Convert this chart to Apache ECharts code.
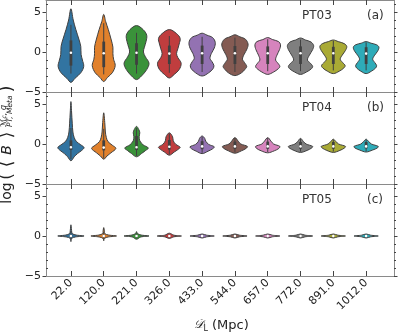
<!DOCTYPE html>
<html>
<head>
<meta charset="utf-8">
<script src="https://cdn.jsdelivr.net/npm/echarts@6/dist/echarts.min.js"></script>
<style>
  html, body { margin: 0; padding: 0; background: #fff; }
  #chart { width: 399px; height: 333px; }
</style>
</head>
<body>
<div id="chart"></div>
<script>
// categories (luminosity distance, Mpc)
const categories = ['22.0', '120.0', '221.0', '326.0', '433.0', '544.0', '657.0', '772.0', '891.0', '1012.0'];
const palette = ['#3274a1', '#e1812c', '#3a923a', '#c03d3e', '#9372b2', '#845b53', '#d684bd', '#7f7f7f', '#a9aa35', '#2eabb8'];
const panelNames = ['PT03', 'PT04', 'PT05'];
const panelTags = ['(a)', '(b)', '(c)'];
const yMajorTicks = [-5, 0, 5];
const yMinorTicks = [-4, -3, -2, -1, 1, 2, 3, 4, 6];
const catTicks = [0, 1, 2, 3, 4, 5, 6, 7, 8, 9];

// violin outlines: [log value, half width] from bottom tip to top tip
const violinsA = [
  [[-3.8,0],[-3.3,0.12],[-2.6,0.3],[-1.8,0.39],[-1.0,0.35],[-0.3,0.31],[0.7,0.3],[1.5,0.25],[2.8,0.15],[4.0,0.07],[5.4,0]],
  [[-3.7,0],[-3.2,0.11],[-2.6,0.26],[-1.7,0.35],[-0.9,0.3],[-0.2,0.28],[0.6,0.28],[1.5,0.23],[2.8,0.14],[3.8,0.06],[4.7,0]],
  [[-3.45,0],[-3.0,0.15],[-2.2,0.31],[-1.4,0.38],[-0.6,0.27],[0.0,0.21],[0.6,0.24],[1.3,0.29],[2.1,0.31],[2.8,0.2],[3.3,0]],
  [[-3.25,0],[-2.8,0.15],[-2.2,0.3],[-1.4,0.36],[-0.7,0.26],[-0.2,0.22],[0.4,0.26],[1.0,0.3],[1.7,0.33],[2.3,0.22],[2.8,0]],
  [[-3.0,0],[-2.6,0.2],[-2.1,0.33],[-1.7,0.36],[-1.2,0.3],[-0.8,0.24],[-0.2,0.28],[0.5,0.37],[1.2,0.4],[1.8,0.32],[2.1,0.15],[2.35,0]],
  [[-2.95,0],[-2.6,0.2],[-2.1,0.32],[-1.8,0.36],[-1.3,0.29],[-0.9,0.23],[-0.3,0.28],[0.4,0.37],[1.0,0.4],[1.6,0.32],[1.9,0.15],[2.15,0]],
  [[-2.8,0],[-2.5,0.18],[-2.1,0.32],[-1.8,0.37],[-1.4,0.31],[-1.0,0.24],[-0.4,0.28],[0.3,0.36],[0.9,0.39],[1.3,0.33],[1.55,0.15],[1.8,0]],
  [[-2.8,0],[-2.5,0.18],[-2.1,0.33],[-1.8,0.37],[-1.4,0.3],[-1.0,0.21],[-0.4,0.27],[0.3,0.37],[0.8,0.4],[1.25,0.32],[1.5,0.15],[1.75,0]],
  [[-2.7,0],[-2.4,0.18],[-2.0,0.32],[-1.7,0.36],[-1.3,0.28],[-0.9,0.21],[-0.4,0.27],[0.2,0.37],[0.7,0.41],[1.05,0.33],[1.3,0.15],[1.5,0]],
  [[-2.7,0],[-2.4,0.16],[-2.0,0.29],[-1.7,0.32],[-1.3,0.26],[-0.9,0.2],[-0.4,0.26],[0.1,0.35],[0.6,0.39],[0.9,0.32],[1.1,0.15],[1.3,0]]
];
const violinsB = [
  [[-2.1,0],[-1.6,0.1],[-1.2,0.2],[-0.8,0.33],[-0.45,0.4],[-0.1,0.3],[0.3,0.17],[0.8,0.1],[1.5,0.06],[2.6,0.04],[4.0,0.02],[5.3,0]],
  [[-1.9,0],[-1.5,0.1],[-1.1,0.22],[-0.55,0.37],[-0.15,0.26],[0.3,0.13],[0.8,0.08],[1.5,0.05],[2.5,0.035],[3.9,0]],
  [[-1.6,0],[-1.2,0.15],[-0.8,0.28],[-0.5,0.36],[-0.1,0.2],[0.4,0.1],[0.9,0.08],[1.4,0.1],[1.8,0.07],[2.2,0]],
  [[-1.4,0],[-1.0,0.15],[-0.7,0.26],[-0.4,0.33],[-0.05,0.2],[0.4,0.12],[0.9,0.1],[1.4,0]],
  [[-1.2,0],[-0.9,0.18],[-0.6,0.32],[-0.35,0.37],[-0.05,0.2],[0.35,0.11],[0.7,0.08],[1.0,0]],
  [[-1.15,0],[-0.85,0.2],[-0.55,0.34],[-0.3,0.38],[0.0,0.18],[0.35,0.1],[0.8,0]],
  [[-1.1,0],[-0.85,0.2],[-0.55,0.34],[-0.3,0.37],[0.0,0.18],[0.35,0.1],[0.8,0]],
  [[-1.05,0],[-0.8,0.2],[-0.5,0.34],[-0.3,0.37],[0.0,0.17],[0.3,0.09],[0.7,0]],
  [[-1.05,0],[-0.8,0.2],[-0.5,0.34],[-0.3,0.37],[0.0,0.16],[0.3,0.08],[0.6,0]],
  [[-1.0,0],[-0.75,0.2],[-0.5,0.34],[-0.3,0.37],[0.0,0.16],[0.3,0.08],[0.6,0]]
];
const violinsC = [
  [[-0.7,0],[-0.3,0.02],[-0.12,0.14],[0,0.4],[0.12,0.16],[0.3,0.04],[0.7,0.02],[1.4,0]],
  [[-0.6,0],[-0.3,0.02],[-0.12,0.14],[0,0.39],[0.12,0.15],[0.3,0.03],[0.6,0.02],[1.05,0]],
  [[-0.4,0],[-0.12,0.13],[0,0.38],[0.12,0.14],[0.3,0.03],[0.55,0]],
  [[-0.3,0],[-0.1,0.14],[0,0.37],[0.1,0.14],[0.35,0]],
  [[-0.25,0],[-0.1,0.14],[0,0.37],[0.1,0.14],[0.25,0]],
  [[-0.25,0],[-0.1,0.14],[0,0.37],[0.1,0.14],[0.25,0]],
  [[-0.25,0],[-0.1,0.14],[0,0.37],[0.1,0.14],[0.25,0]],
  [[-0.25,0],[-0.1,0.14],[0,0.37],[0.1,0.14],[0.25,0]],
  [[-0.25,0],[-0.1,0.14],[0,0.37],[0.1,0.14],[0.25,0]],
  [[-0.25,0],[-0.1,0.14],[0,0.37],[0.1,0.14],[0.25,0]]
];

// inner boxes: [whisker low, q1, median, q3, whisker high]
const boxesA = [
  [-2.7,-1.7,-0.1,1.45,3.4], [-2.8,-1.9,-0.15,1.3,3.6], [-2.7,-1.6,-0.1,1.1,2.4], [-2.6,-1.5,-0.2,0.8,2.0],
  [-2.5,-1.5,-0.15,0.8,1.9], [-2.5,-1.5,-0.15,0.75,1.8], [-2.4,-1.5,-0.15,0.7,1.6], [-2.4,-1.5,-0.15,0.7,1.55],
  [-2.3,-1.5,-0.15,0.65,1.4], [-2.3,-1.5,-0.2,0.6,1.2]
];
const boxesB = [
  [-1.9,-0.75,-0.4,0.45,2.0], [-1.8,-0.8,-0.45,0.45,1.9], [-1.5,-0.75,-0.4,1.0,2.0], [-1.3,-0.7,-0.35,0.5,1.3],
  [-1.1,-0.65,-0.3,0.35,0.9], [-1.0,-0.6,-0.3,0.3,0.75], [-1.0,-0.6,-0.3,0.3,0.75], [-0.95,-0.6,-0.3,0.25,0.65],
  [-0.95,-0.6,-0.3,0.25,0.55], [-0.9,-0.55,-0.3,0.25,0.55]
];
const boxesC = [
  [-0.4,-0.08,0,0.1,0.6], [-0.35,-0.08,0,0.08,0.5], [-0.25,-0.06,0,0.06,0.3], [-0.2,-0.05,0,0.05,0.2],
  [-0.15,-0.05,0,0.05,0.15], [-0.15,-0.05,0,0.05,0.15], [-0.15,-0.05,0,0.05,0.15], [-0.15,-0.05,0,0.05,0.15],
  [-0.15,-0.05,0,0.05,0.15], [-0.15,-0.05,0,0.05,0.15]
];

const panels = [
  { violins: violinsA, boxes: boxesA },
  { violins: violinsB, boxes: boxesB },
  { violins: violinsC, boxes: boxesC }
];

const frameColor = '#8a8a8a';
const tickColor = '#444';
const lineGray = '#404040';
const fontFamily = 'DejaVu Sans';
const minusFmt = v => (v < 0 ? '\u2212' + Math.abs(v) : String(v));

const grids = [];
const xAxes = [];
const yAxes = [];
const series = [];

panels.forEach((p, g) => {
  grids.push({ left: 46, right: 5, top: g * 92, height: 92 });
  const last = g === panels.length - 1;
  ['bottom', 'top'].forEach(pos => {
    xAxes.push({
      type: 'value', gridIndex: g, position: pos, min: -0.76, max: 9.85,
      axisLine: { onZero: false, lineStyle: { color: frameColor, width: 1 } },
      axisTick: { inside: true, length: 5, customValues: catTicks, lineStyle: { color: tickColor, width: 1 } },
      axisLabel: {
        show: last && pos === 'bottom', customValues: catTicks, rotate: 45, margin: 5,
        fontSize: 11, fontFamily: fontFamily, color: '#222',
        formatter: v => categories[Math.round(v)]
      },
      splitLine: { show: false }
    });
  });
  ['left', 'right'].forEach(pos => {
    yAxes.push({
      type: 'value', gridIndex: g, position: pos, min: -5, max: 6.5,
      axisLine: { onZero: false, lineStyle: { color: frameColor, width: 1 } },
      axisTick: { inside: false, length: 3.5, customValues: yMajorTicks, lineStyle: { color: tickColor } },
      axisLabel: {
        show: pos === 'left', customValues: yMajorTicks, margin: 5,
        fontSize: 11, fontFamily: fontFamily, color: '#222', formatter: minusFmt
      },
      splitLine: { show: false }
    });
    yAxes.push({
      type: 'value', gridIndex: g, position: pos, min: -5, max: 6.5,
      axisLine: { show: false, onZero: false },
      axisTick: { inside: pos === 'left', length: 2, customValues: yMinorTicks, lineStyle: { color: tickColor } },
      axisLabel: { show: false },
      splitLine: { show: false }
    });
  });

  series.push({
    type: 'custom',
    xAxisIndex: g * 2,
    yAxisIndex: g * 4,
    clip: false,
    data: p.boxes.map((b, i) => [i, b[2]]),
    encode: { x: 0, y: 1 },
    renderItem: function (params, api) {
      const i = params.dataIndex;
      const prof = p.violins[i];
      const box = p.boxes[i];
      const right = prof.map(k => api.coord([i + k[1], k[0]]));
      const left = prof.slice().reverse().map(k => api.coord([i - k[1], k[0]]));
      const pts = right.concat(left.slice(1, -1));
      const lo = api.coord([i, box[0]]);
      const q1 = api.coord([i, box[1]]);
      const med = api.coord([i, box[2]]);
      const q3 = api.coord([i, box[3]]);
      const hi = api.coord([i, box[4]]);
      return {
        type: 'group',
        children: [
          {
            type: 'polygon',
            shape: { points: pts, smooth: 0.35 },
            style: { fill: palette[i], stroke: lineGray, lineWidth: 1 }
          },
          {
            type: 'line',
            shape: { x1: lo[0], y1: lo[1], x2: hi[0], y2: hi[1] },
            style: { stroke: lineGray, lineWidth: 1 }
          },
          {
            type: 'rect',
            shape: { x: q3[0] - 1.4, y: q3[1], width: 2.8, height: Math.max(q1[1] - q3[1], 0.5) },
            style: { fill: lineGray }
          },
          {
            type: 'circle',
            shape: { cx: med[0], cy: med[1], r: 1.3 },
            style: { fill: '#fff' }
          }
        ]
      };
    }
  });
});

// panel labels
const graphics = [];
panelNames.forEach((name, g) => {
  graphics.push({
    type: 'text', left: 302, top: g * 92 + 10,
    style: { text: name, font: '12px "DejaVu Sans"', fill: '#333' }
  });
  graphics.push({
    type: 'text', left: 367, top: g * 92 + 10,
    style: { text: panelTags[g], font: '12px "DejaVu Sans"', fill: '#333' }
  });
});

// x axis title
function xPiece(text, x, y, font) {
  return {
    type: 'text', x: x, y: y,
    style: { text: text, font: font, fill: '#222', align: 'left', verticalAlign: 'middle', textAlign: 'left', textVerticalAlign: 'middle' }
  };
}
graphics.push(xPiece('𝒟', 194, 325, 'italic 12px "DejaVu Sans"'));
graphics.push(xPiece('L', 203.5, 329, '8px "DejaVu Sans"'));
graphics.push(xPiece('(Mpc)', 212, 325.5, '13px "DejaVu Sans"'));

// y axis title, rotated to read bottom to top
const yTitleBase = 204;
function yPiece(text, screenY, offset, font) {
  return {
    type: 'text', x: yTitleBase - screenY, y: offset,
    style: { text: text, font: font, fill: '#222', align: 'center', verticalAlign: 'middle', textAlign: 'center', textVerticalAlign: 'middle' }
  };
}
graphics.push({
  type: 'group', x: 7.5, y: yTitleBase, rotation: Math.PI / 2,
  children: [
    yPiece('log', 193, 0, '14px "DejaVu Sans"'),
    yPiece('(', 176.5, 0, '17px "DejaVu Sans"'),
    yPiece('\u27e8', 164, 0, '17px "DejaVu Sans"'),
    yPiece('B', 150, 0, 'italic 14px "DejaVu Sans"'),
    yPiece('\u27e9', 135, 0, '17px "DejaVu Sans"'),
    {
      type: 'text', x: yTitleBase - 127, y: -3.4,
      style: {
        text: '{a|ℳ}{b|c}{a|, q}', align: 'left', verticalAlign: 'middle', textAlign: 'left', textVerticalAlign: 'middle',
        rich: {
          a: { fontSize: 8, fontFamily: fontFamily, fontStyle: 'italic', fill: '#222' },
          b: { fontSize: 6, fontFamily: fontFamily, fontStyle: 'italic', fill: '#222' }
        }
      }
    },
    {
      type: 'text', x: yTitleBase - 127, y: 2.6,
      style: { text: 'PT, Meta', font: 'italic 7.5px "DejaVu Sans"', fill: '#222', align: 'left', verticalAlign: 'middle', textAlign: 'left', textVerticalAlign: 'middle' }
    },
    yPiece(')', 89, 0, '17px "DejaVu Sans"')
  ]
});

const chart = echarts.init(document.getElementById('chart'), null, { renderer: 'canvas' });
chart.setOption({
  animation: false,
  backgroundColor: '#fff',
  grid: grids,
  xAxis: xAxes,
  yAxis: yAxes,
  series: series,
  graphic: graphics
});
</script>
</body>
</html>
